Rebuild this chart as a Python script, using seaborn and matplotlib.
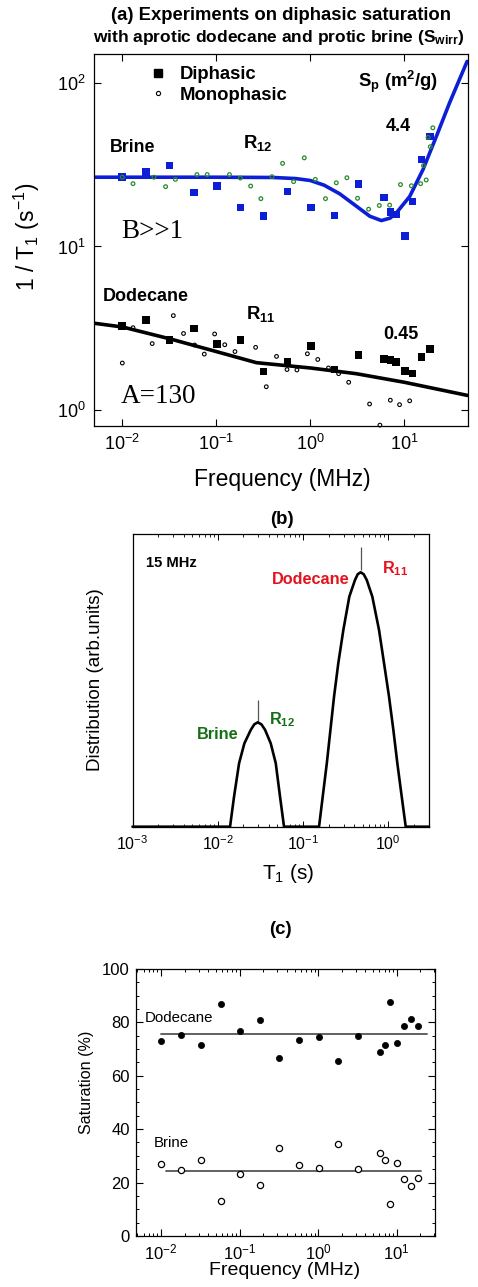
import matplotlib
matplotlib.use("Agg")
import matplotlib.pyplot as plt
from matplotlib.lines import Line2D
from matplotlib.ticker import LogLocator, NullLocator, MultipleLocator, NullFormatter
import seaborn as sns

# ---------------------------------------------------------------- data
# measurement frequencies (MHz) of the diphasic runs (also used for saturations)
freq_meas = [0.01, 0.0178, 0.0318, 0.0575, 0.101, 0.181, 0.318, 0.574, 1.02,
             1.81, 3.24, 6.05, 7.15, 8.15, 10.1, 12.2, 15.3, 18.7]

# (a) 1/T1 (s^-1), diphasic saturation
brine_diphasic = [26.5, 28.4, 31.3, 21.4, 23.5, 17.3, 15.3, 21.7, 17.3,
                  15.5, 24.1, 19.9, 16.2, 15.7, 11.6, 18.8, 34.0, 47.1]
dodecane_diphasic = [3.28, 3.55, 2.68, 3.16, 2.53, 2.69, 1.72, 1.98, 2.47,
                     1.77, 2.18, 2.05, 2.03, 1.97, 1.74, 1.67, 2.11, 2.36]

# (a) 1/T1 (s^-1), monophasic saturation
brine_mono_freq = [0.01, 0.013, 0.0217, 0.0289, 0.0367, 0.0622, 0.080, 0.138,
                   0.18, 0.232, 0.298, 0.391, 0.507, 0.664, 0.863, 1.13, 1.45,
                   1.89, 2.45, 3.18, 4.17, 5.42, 6.98, 9.1, 11.9, 14.9, 17.1,
                   16.0, 18.9, 17.9, 20.1]
brine_mono_rate = [26.5, 24.2, 26.5, 23.2, 25.7, 27.5, 27.5, 27.5, 26.2, 23.4,
                   19.6, 26.7, 32.2, 24.9, 34.8, 25.7, 19.6, 24.5, 26.3, 19.7,
                   16.9, 17.8, 17.9, 23.9, 23.5, 24.2, 25.5, 31.2, 40.7, 46.4,
                   53.1]
dodec_mono_freq = [0.01, 0.013, 0.0208, 0.0349, 0.0448, 0.0588, 0.0745, 0.096,
                   0.123, 0.158, 0.262, 0.34, 0.437, 0.565, 0.72, 0.93, 1.2,
                   1.56, 2.0, 2.56, 4.27, 5.5, 7.1, 8.9, 11.4]
dodec_mono_rate = [1.94, 3.19, 2.55, 3.78, 2.94, 2.50, 2.20, 2.92, 2.51, 2.28,
                   2.42, 1.39, 2.13, 1.77, 1.76, 2.21, 2.04, 1.81, 1.67, 1.48,
                   1.09, 0.81, 1.15, 1.08, 1.14]

# (a) model dispersion curves R12 (brine) and R11 (dodecane)
brine_fit_freq = [0.005, 0.1, 0.4, 0.7, 1.0, 1.4, 2.05, 3.1, 4.3, 5.7, 7.05,
                  8.2, 11.4, 15.8, 21.9, 30.3, 46.5]
brine_fit_rate = [26.5, 26.5, 26.4, 26.0, 25.3, 23.7, 21.0, 17.6, 15.3, 14.4,
                  14.9, 16.0, 20.2, 29.5, 47.0, 75.5, 135.0]
dodec_fit_freq = [0.00495, 0.0101, 0.0318, 0.1, 0.267, 1.0, 3.08, 10.0, 47.0]
dodec_fit_rate = [3.40, 3.22, 2.73, 2.28, 1.95, 1.81, 1.67, 1.48, 1.23]

# (b) T1 distribution at 15 MHz
t1_values = [0.001,
             0.01393, 0.01552, 0.01778, 0.02051, 0.02438, 0.0268, 0.02944,
             0.0325, 0.03589, 0.04178, 0.04786, 0.05370, 0.05984,
             0.154, 0.190, 0.231, 0.259, 0.297, 0.349, 0.407, 0.4375, 0.474,
             0.514, 0.558, 0.649, 0.778, 0.891, 1.019, 1.146, 1.276, 1.436,
             1.600, 3.0]
distribution = [0.0,
                0.0, 0.103, 0.217, 0.285, 0.331, 0.350, 0.357,
                0.350, 0.331, 0.285, 0.217, 0.103, 0.0,
                0.0, 0.217, 0.445, 0.559, 0.673, 0.787, 0.844, 0.8635, 0.870,
                0.8635, 0.844, 0.787, 0.673, 0.559, 0.445, 0.331, 0.217, 0.103,
                0.0, 0.0]
t1_peak_brine = 0.0294
t1_peak_dodecane = 0.474

# (c) saturations (%)
sat_dodecane = [73.1, 75.4, 71.4, 86.9, 76.8, 80.7, 66.8, 73.5, 74.4,
                65.5, 75.0, 68.9, 71.4, 87.7, 72.4, 78.5, 81.2, 78.5]
sat_brine = [26.9, 24.6, 28.6, 13.0, 23.2, 19.2, 33.0, 26.5, 25.5,
             34.4, 25.1, 31.1, 28.6, 12.1, 27.5, 21.5, 18.6, 21.7]
mean_dodecane, mean_dodecane_span = 75.5, [0.01, 24.5]
mean_brine, mean_brine_span = 24.4, [0.0116, 20.6]

# ---------------------------------------------------------------- style
sns.set_theme(style="ticks")
plt.rcParams.update({
    "font.family": ["Liberation Sans", "DejaVu Sans"],
    "mathtext.fontset": "custom",
    "mathtext.rm": "Liberation Sans",
    "mathtext.it": "Liberation Sans:italic",
    "mathtext.bf": "Liberation Sans:bold",
    "xtick.direction": "in",
    "ytick.direction": "in",
    "axes.linewidth": 0.9,
    "axes.edgecolor": "black",
    "xtick.color": "black",
    "ytick.color": "black",
    "text.color": "black",
    "axes.labelcolor": "black",
})

BLUE = "#0d1fd6"
GREEN_PT = "#2a8a2a"
GREEN_TX = "#157015"
RED = "#e3121c"
GREY = "#555555"

W, H = 478, 1287
fig = plt.figure(figsize=(W / 100, H / 100), dpi=100)
fig.patch.set_facecolor("white")


def px_axes(left, top, right, bottom):
    return fig.add_axes([left / W, 1 - bottom / H, (right - left) / W,
                         (bottom - top) / H])


def ftext(x, y, s, **kw):
    kw.setdefault("va", "baseline")
    fig.text(x / W, 1 - y / H, s, **kw)


axA = px_axes(94, 54, 467.5, 426)
axB = px_axes(132.5, 534.3, 429, 826.7)
axC = px_axes(136, 968.8, 435, 1236)

# ---------------------------------------------------------------- panel (a)
sns.lineplot(x=brine_fit_freq, y=brine_fit_rate, ax=axA, color=BLUE, lw=2.6,
             estimator=None, sort=False, zorder=2)
sns.lineplot(x=dodec_fit_freq, y=dodec_fit_rate, ax=axA, color="black", lw=2.6,
             estimator=None, sort=False, zorder=2)
sns.scatterplot(x=brine_mono_freq, y=brine_mono_rate, ax=axA, marker="o", s=7,
                color=GREEN_PT, facecolor="none", edgecolor=GREEN_PT,
                linewidth=0.9, zorder=4)
sns.scatterplot(x=dodec_mono_freq, y=dodec_mono_rate, ax=axA, marker="o", s=7,
                color="black", facecolor="none", edgecolor="black",
                linewidth=0.8, zorder=4, clip_on=False)
sns.scatterplot(x=freq_meas, y=brine_diphasic, ax=axA, marker="s", s=30,
                color=BLUE, edgecolor="none", linewidth=0, zorder=3)
sns.scatterplot(x=freq_meas, y=dodecane_diphasic, ax=axA, marker="s", s=30,
                color="black", edgecolor="none", linewidth=0, zorder=3)

axA.set_xscale("log")
axA.set_yscale("log")
axA.set_xlim(0.005, 47)
axA.set_ylim(0.8, 150)
axA.xaxis.set_major_locator(LogLocator(base=10, numticks=10))
axA.yaxis.set_major_locator(LogLocator(base=10, numticks=10))
axA.xaxis.set_minor_locator(NullLocator())
axA.yaxis.set_minor_locator(NullLocator())
axA.tick_params(which="major", length=5, width=0.8, labelsize=13, pad=6,
                top=True, right=True)
axA.set_xlabel("Frequency (MHz)", fontsize=16.5)
axA.set_ylabel("1 / T$_1$ (s$^{-1}$)", fontsize=16.5)
axA.xaxis.set_label_coords(0.505, -0.113)
axA.yaxis.set_label_coords(-0.14, 0.508)

handles = [Line2D([], [], marker="s", ls="none", color="black", markersize=5.4),
           Line2D([], [], marker="o", ls="none", mfc="none", mec="black",
                  markersize=3.0, mew=0.8)]
leg = axA.legend(handles, ["Diphasic", "Monophasic"], loc="upper left",
                 bbox_to_anchor=((149 - 94) / 373.5, 1 - (66 - 54) / 372),
                 frameon=False, borderpad=0, borderaxespad=0,
                 handlelength=1.0, handletextpad=0.68, labelspacing=0.2,
                 prop={"weight": "bold", "size": 13.3})

# title and annotations of (a)
ftext(281, 20, "(a) Experiments on diphasic saturation", ha="center",
      fontsize=13.3, fontweight="bold")
ftext(279, 42, r"with aprotic dodecane and protic brine (S$_{\mathbf{wirr}}$)",
      ha="center", fontsize=12.5, fontweight="bold")
ftext(358, 87, r"S$_{\mathbf{p}}$ (m$^{\mathbf{2}}$/g)", ha="left",
      fontsize=13.3, fontweight="bold")
ftext(386, 131, "4.4", ha="left", fontsize=13, fontweight="bold")
ftext(110, 152, "Brine", ha="left", fontsize=12.8, fontweight="bold")
ftext(243, 148, r"$\mathbf{R_{12}}$", ha="left", fontsize=13.3)
ftext(121, 238, "B>>1", ha="left", fontsize=19.5, family="Liberation Serif")
ftext(103, 301, "Dodecane", ha="left", fontsize=13, fontweight="bold")
ftext(246, 319, r"$\mathbf{R_{11}}$", ha="left", fontsize=13.3)
ftext(383, 339, "0.45", ha="left", fontsize=13, fontweight="bold")
ftext(121, 403, "A=130", ha="left", fontsize=19.5, family="Liberation Serif")

# ---------------------------------------------------------------- panel (b)
sns.lineplot(x=t1_values, y=distribution, ax=axB, color="black", lw=1.9,
             estimator=None, sort=False, zorder=3, clip_on=False)
axB.vlines([t1_peak_brine], 0.36, 0.433, color=GREY, lw=0.9)
axB.vlines([t1_peak_dodecane], 0.878, 0.957, color=GREY, lw=0.9)
axB.set_xscale("log")
axB.set_xlim(1e-3, 3)
axB.set_ylim(0, 1)
axB.xaxis.set_major_locator(LogLocator(base=10, numticks=10))
axB.xaxis.set_minor_locator(LogLocator(base=10, subs=range(2, 10), numticks=20))
axB.xaxis.set_minor_formatter(NullFormatter())
axB.yaxis.set_major_locator(NullLocator())
axB.yaxis.set_minor_locator(NullLocator())
axB.tick_params(axis="x", which="major", length=4, width=0.7, labelsize=11.5,
                pad=5.5, top=True)
axB.tick_params(axis="x", which="minor", length=2, width=0.6, top=True)
axB.set_xlabel("T$_1$ (s)", fontsize=15)
axB.set_ylabel("Distribution (arb.units)", fontsize=13.5)
axB.xaxis.set_label_coords(0.524, -0.121)
axB.yaxis.set_label_coords(-0.096, 0.502)

ftext(282, 519, "(b)", ha="center", va="center", fontsize=13.4,
      fontweight="bold")
ftext(146, 566.7, "15 MHz", ha="left", fontsize=10.6, fontweight="bold")
ftext(271.7, 584.3, "Dodecane", ha="left", fontsize=11.7, fontweight="bold",
      color=RED)
ftext(381.7, 573.5, r"$\mathbf{R_{11}}$", ha="left", fontsize=11.7, color=RED)
ftext(196.7, 739.3, "Brine", ha="left", fontsize=11.7, fontweight="bold",
      color=GREEN_TX)
ftext(269, 724.3, r"$\mathbf{R_{12}}$", ha="left", fontsize=11.7,
      color=GREEN_TX)

# ---------------------------------------------------------------- panel (c)
sns.lineplot(x=mean_dodecane_span, y=[mean_dodecane] * 2, ax=axC, color=GREY,
             lw=1.3, estimator=None, zorder=2)
sns.lineplot(x=mean_brine_span, y=[mean_brine] * 2, ax=axC, color=GREY,
             lw=1.3, estimator=None, zorder=2)
sns.scatterplot(x=freq_meas, y=sat_dodecane, ax=axC, marker="o", s=20,
                color="black", edgecolor="black", linewidth=0.5, zorder=3)
sns.scatterplot(x=freq_meas, y=sat_brine, ax=axC, marker="o", s=20,
                color="black", facecolor="white", edgecolor="black",
                linewidth=0.9, zorder=3)
axC.set_xscale("log")
axC.set_xlim(0.0048, 30.7)
axC.set_ylim(0, 100)
axC.xaxis.set_major_locator(LogLocator(base=10, numticks=10))
axC.xaxis.set_minor_locator(LogLocator(base=10, subs=range(2, 10), numticks=20))
axC.xaxis.set_minor_formatter(NullFormatter())
axC.yaxis.set_major_locator(MultipleLocator(20))
axC.yaxis.set_minor_locator(MultipleLocator(5))
axC.tick_params(which="major", length=5, width=0.8, labelsize=12, pad=4.5,
                top=True, right=True)
axC.tick_params(which="minor", length=2.5, width=0.7, top=True, right=True)
axC.tick_params(axis="x", which="major", pad=5)
axC.set_xlabel("Frequency (MHz)", fontsize=14)
axC.set_ylabel("Saturation (%)", fontsize=11.6)
axC.xaxis.set_label_coords(0.498, -0.097)
axC.yaxis.set_label_coords(-0.14, 0.576)

ftext(280, 929, "(c)", ha="center", va="center", fontsize=13.4,
      fontweight="bold")
ftext(145, 1021.7, "Dodecane", ha="left", fontsize=10.8)
ftext(153.3, 1146.7, "Brine", ha="left", fontsize=10.8)

fig.savefig("out.png", dpi=100)
